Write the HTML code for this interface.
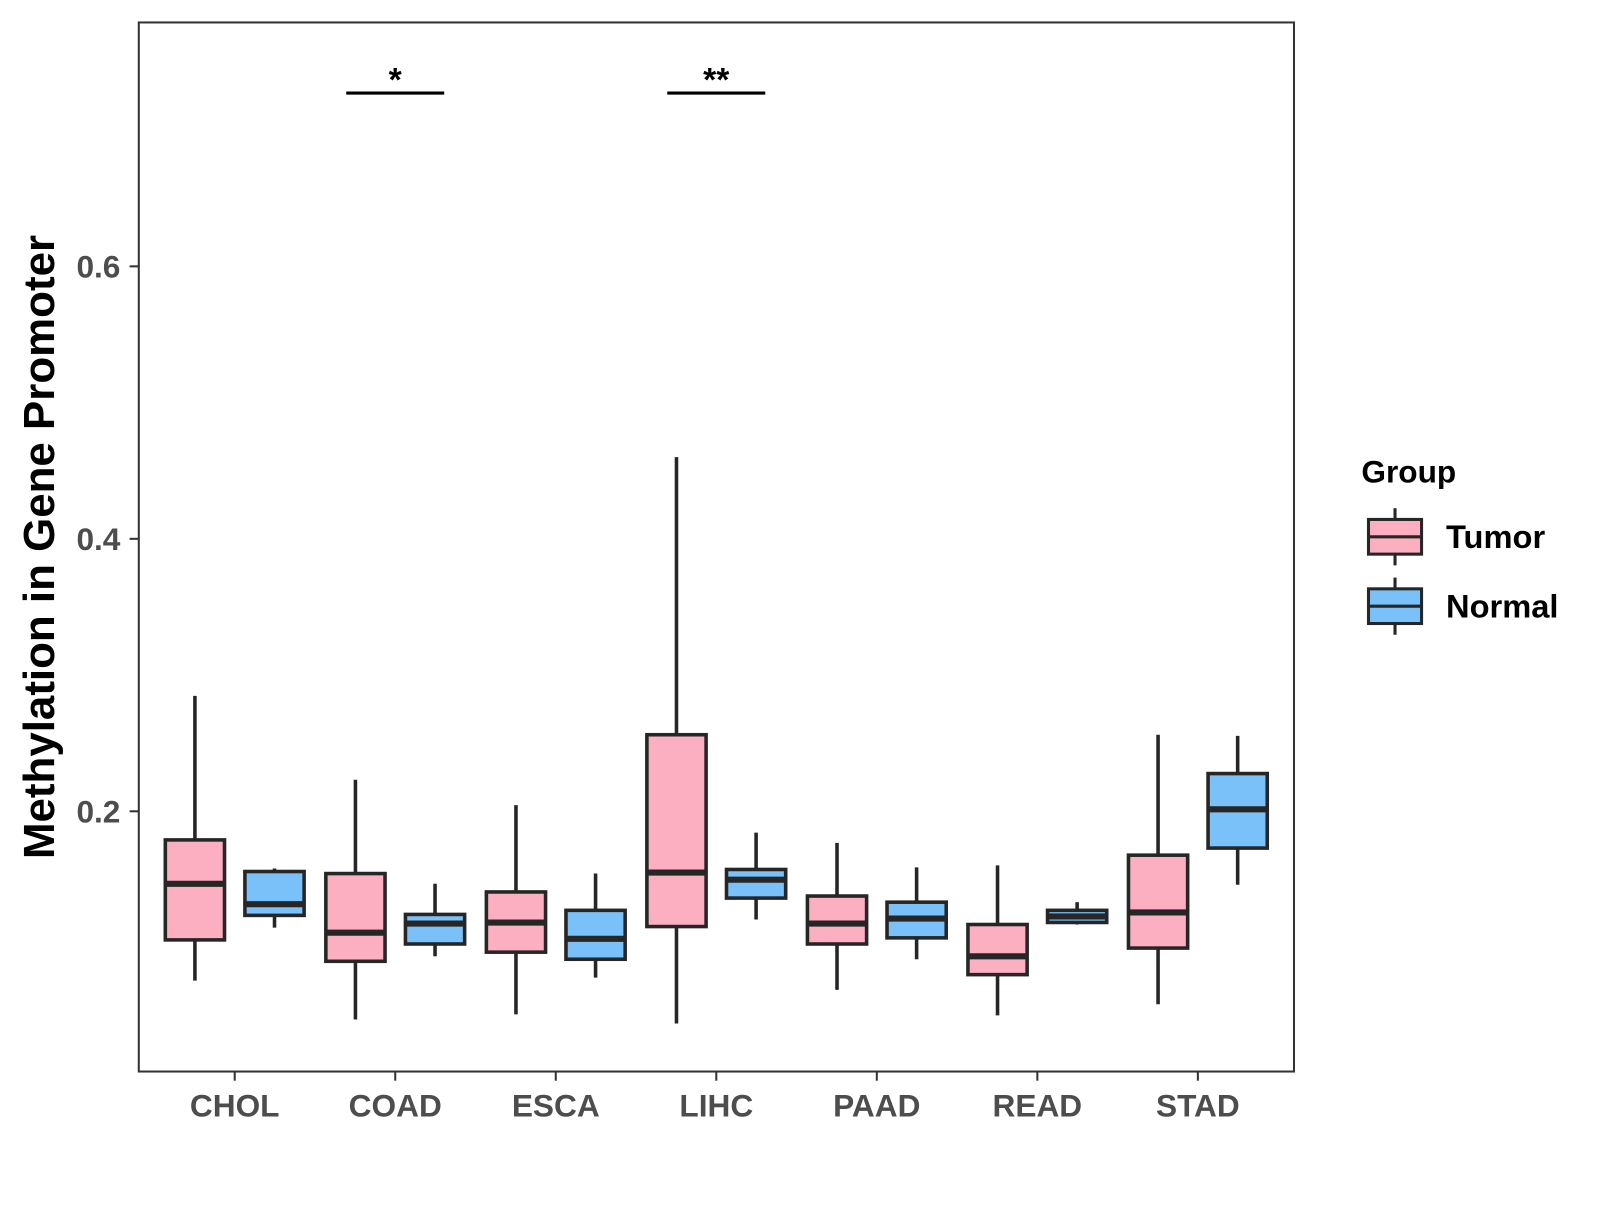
<!DOCTYPE html>
<html><head><meta charset="utf-8"><style>
body{margin:0;background:#fff}
svg text{font-family:"Liberation Sans",Arial,sans-serif;font-weight:bold}
</style></head><body>
<svg id="chart" width="1600" height="1200" xmlns="http://www.w3.org/2000/svg">
<rect width="1600" height="1200" fill="#fff"/>
<g id="plot" transform="scale(1.0205)"></g>
</svg>
<script>
const categories=["CHOL","COAD","ESCA","LIHC","PAAD","READ","STAD"];
// [lowerWhisker, q1, median, q3, upperWhisker]
const tumorStats=[[0.0757,0.1056,0.1468,0.179,0.2847],[0.0472,0.0899,0.1109,0.1543,0.2232],[0.0509,0.0966,0.1183,0.1408,0.2045],[0.0442,0.1154,0.155,0.2562,0.46],[0.0689,0.1026,0.1176,0.1378,0.1768],[0.0502,0.0801,0.0936,0.1169,0.1603],[0.0584,0.0996,0.1258,0.1678,0.2562]];
const normalStats=[[0.1146,0.1236,0.1318,0.1558,0.158],[0.0936,0.1026,0.1176,0.1243,0.1468],[0.0779,0.0914,0.1064,0.1273,0.1543],[0.1206,0.1363,0.1498,0.1573,0.1843],[0.0914,0.1071,0.1213,0.1333,0.1588],[0.1169,0.1184,0.1228,0.1273,0.1333],[0.1461,0.173,0.2015,0.2277,0.2554]];
const yTicks=[0.2,0.4,0.6];
const yTickLabels=["0.2","0.4","0.6"];
const sigCategories=["COAD","LIHC"];
const sigLabels=["*","**"];
const sigLevel=[0.7272,0.7272];

const L=136,T=22,R=1268,B=1050;
const y=v=>795-(v-0.2)*1335;
const x=i=>230+i*157.3;
const NS="http://www.w3.org/2000/svg";
const g=document.getElementById('plot');
function mk(tag,attrs,parent){const e=document.createElementNS(NS,tag);for(const k in attrs)e.setAttribute(k,attrs[k]);(parent||g).appendChild(e);return e;}

function box(cx,s,fill,name){
  const grp=mk('g',{});
  
  
  mk('line',{x1:cx,x2:cx,y1:y(s[4]),y2:y(s[0]),stroke:'#262626','stroke-width':3.5},grp);
  mk('rect',{x:cx-29,y:y(s[3]),width:58,height:y(s[1])-y(s[3]),fill:fill,stroke:'#262626','stroke-width':3.5},grp);
  mk('line',{x1:cx-29,x2:cx+29,y1:y(s[2]),y2:y(s[2]),stroke:'#262626','stroke-width':6},grp);
}
categories.forEach((c,i)=>{
  box(x(i)-39,tumorStats[i],'#fbafc1','box-tumor-'+c.toLowerCase());
  box(x(i)+39,normalStats[i],'#79c1f8','box-normal-'+c.toLowerCase());
  const tk=mk('line',{x1:x(i),x2:x(i),y1:B,y2:B+9,stroke:'#333','stroke-width':2});
  
  
  const t=mk('text',{x:x(i),y:1094,'text-anchor':'middle','font-size':31,fill:'#4d4d4d'});
  t.textContent=c;
  
  
});
yTicks.forEach((v,i)=>{
  const tk=mk('line',{x1:L-9,x2:L,y1:y(v),y2:y(v),stroke:'#333','stroke-width':2});
  
  
  const t=mk('text',{x:118,y:y(v)+11,'text-anchor':'end','font-size':31,fill:'#4d4d4d'});
  t.textContent=yTickLabels[i];
  
  
});
sigCategories.forEach((c,i)=>{
  const ci=categories.indexOf(c);
  const ln=mk('line',{x1:x(ci)-48,x2:x(ci)+48,y1:y(sigLevel[i]),y2:y(sigLevel[i]),stroke:'#000','stroke-width':3});
  
  
  const t=mk('text',{x:x(ci),y:y(sigLevel[i])-2,'text-anchor':'middle','font-size':33,fill:'#000'});
  t.textContent=sigLabels[i];
  
  
});
const fr=mk('rect',{x:L,y:T,width:R-L,height:B-T,fill:'none',stroke:'#333','stroke-width':2});


const yt=mk('text',{x:0,y:0,transform:'translate(53,536) rotate(-90)','text-anchor':'middle','font-size':43,fill:'#000'});
yt.textContent='Methylation in Gene Promoter';


// legend
const lg=mk('g',{});


const lt=mk('text',{x:1334,y:473,'font-size':31,fill:'#000'},lg);
lt.textContent='Group';


[['Tumor','#fbafc1',526],['Normal','#79c1f8',594]].forEach(([n,f,cy])=>{
  const e=mk('g',{},lg);
  
  
  mk('line',{x1:1367,x2:1367,y1:cy-28,y2:cy+28,stroke:'#262626','stroke-width':3},e);
  mk('rect',{x:1341,y:cy-17,width:52,height:34,fill:f,stroke:'#262626','stroke-width':3},e);
  mk('line',{x1:1341,x2:1393,y1:cy,y2:cy,stroke:'#262626','stroke-width':3},e);
  const t=mk('text',{x:1417,y:cy+11,'font-size':32,fill:'#000'},e);
  t.textContent=n;
});
</script>
</body></html>
